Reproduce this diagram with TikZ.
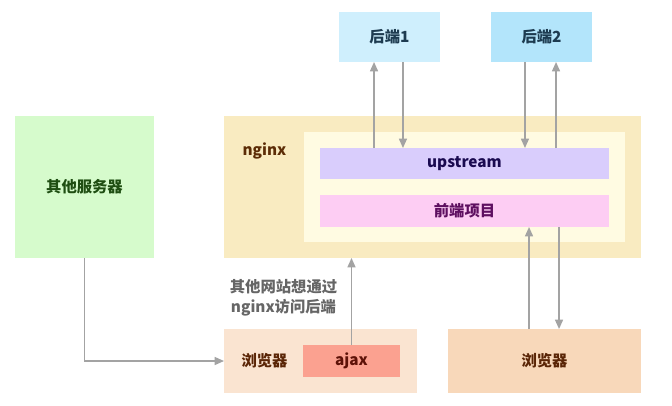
\documentclass[tikz,border=0pt]{standalone}
\usepackage{fontspec}
\setmainfont{Noto Sans CJK SC}
\usetikzlibrary{arrows.meta}
\definecolor{backA}{HTML}{CFEFFD}
\definecolor{backB}{HTML}{B3E5FB}
\definecolor{backtxt}{HTML}{1D3B50}
\definecolor{nginxbg}{HTML}{F9EBC1}
\definecolor{innerbg}{HTML}{FFFBE2}
\definecolor{nginxtxt}{HTML}{5C2C06}
\definecolor{upbg}{HTML}{D9CDFC}
\definecolor{uptxt}{HTML}{1A0A50}
\definecolor{frontbg}{HTML}{FDCDF3}
\definecolor{fronttxt}{HTML}{5E0F60}
\definecolor{otherbg}{HTML}{D6FBCC}
\definecolor{othertxt}{HTML}{1F4E12}
\definecolor{browseA}{HTML}{FAE4D1}
\definecolor{browseB}{HTML}{F8D8BA}
\definecolor{browsetxt}{HTML}{5A2506}
\definecolor{ajaxbg}{HTML}{FBA190}
\definecolor{ajaxtxt}{HTML}{5E1208}
\definecolor{arrowgray}{HTML}{A3A3A3}
\tikzset{
  box/.style={inner sep=0pt, outer sep=0pt, font=\bfseries\fontsize{11.5}{14}\selectfont},
  arr/.style={draw=arrowgray, line width=1pt, -{Triangle[width=6pt,length=7pt]}},
}

\begin{document}
\begin{tikzpicture}[x=0.75pt, y=-0.75pt]
		%%%%% START %%%%%
		\useasboundingbox[fill=white] (0,0) rectangle (672,405);
		
		% backends
		\node[box, fill=backA, text=backtxt, minimum width=75.75pt, minimum height=37.5pt] (back1) at (389.5,37) {后端1};
		\node[box, fill=backB, text=backtxt, minimum width=75.75pt, minimum height=37.5pt] (back2) at (541.5,37) {后端2};
		
		% nginx
		\node[box, fill=nginxbg, minimum width=312.75pt, minimum height=106.5pt] (nginx) at (432.5,187) {};
		\node[box, fill=innerbg, minimum width=240.75pt, minimum height=82.5pt] (inner) at (464.5,187) {};
		\node[box, text=nginxtxt] (nginxlbl) at (264.5,151) {nginx};
		\node[box, fill=upbg, text=uptxt, minimum width=216.75pt, minimum height=23.25pt] (upstream) at (464.5,163.5) {upstream};
		\node[box, fill=frontbg, text=fronttxt, minimum width=216.75pt, minimum height=24pt] (front) at (464.5,211) {前端项目};
		
		% other server
		\node[box, fill=otherbg, text=othertxt, minimum width=104.25pt, minimum height=106.5pt] (other) at (84.5,187) {其他服务器};
		
		% browsers
		\node[box, fill=browseA, minimum width=144.75pt, minimum height=48pt] (browser1) at (320.5,361) {};
		\node[box, text=browsetxt] (browser1lbl) at (264.5,361) {浏览器};
		\node[box, fill=ajaxbg, text=ajaxtxt, minimum width=72.75pt, minimum height=24pt] (ajax) at (351.5,361) {ajax};
		\node[box, fill=browseB, text=browsetxt, minimum width=144.75pt, minimum height=48pt] (browser2) at (544.5,361) {浏览器};
		
		\node[box, text=black!60, align=center, font=\bfseries\fontsize{11.5}{15}\selectfont] (note) at (283.5,298) {其他网站想通过\\nginx访问后端};
		
		% connectors
		\draw[arr] ([xshift=-11.6pt]back1.south |- upstream.north) -- ([xshift=-11.6pt]back1.south);
		\draw[arr] ([xshift=10.1pt]back1.south) -- ([xshift=10.1pt]back1.south |- upstream.north);
		\draw[arr] ([xshift=-12.4pt]back2.south) -- ([xshift=-12.4pt]back2.south |- upstream.north);
		\draw[arr] ([xshift=10.9pt]back2.south |- upstream.north) -- ([xshift=10.9pt]back2.south);
		\draw[arr] ([xshift=-11.6pt]browser2.north) -- ([xshift=-11.6pt]browser2.north |- front.south);
		\draw[arr] ([xshift=10.9pt]browser2.north |- front.south) -- ([xshift=10.9pt]browser2.north);
		\draw[arr] (ajax.north) -- (ajax.north |- nginx.south);
		\draw[arr] (other.south) |- (browser1.west);
		%%%%% END %%%%%
	\end{tikzpicture}
\end{document}
